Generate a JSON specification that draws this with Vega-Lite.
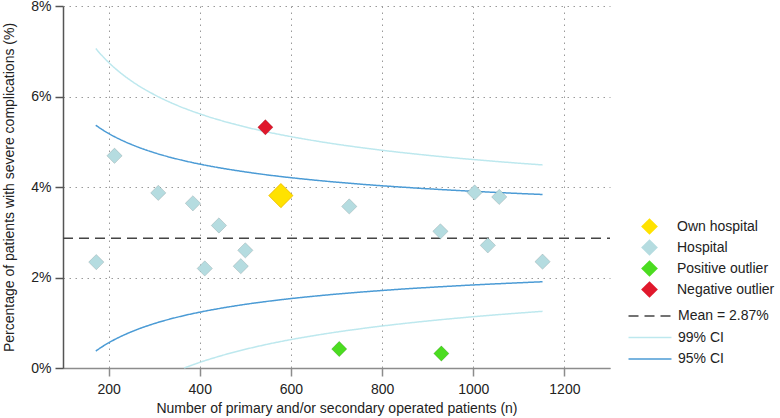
{
  "$schema": "https://vega.github.io/schema/vega-lite/v6.json",
  "width": 547,
  "height": 362,
  "autosize": {"type": "none"},
  "padding": {"left": 63, "top": 6, "right": 170, "bottom": 50},
  "background": "white",
  "config": {
    "view": {"stroke": null},
    "font": "Liberation Sans",
    "axis": {
      "labelFont": "Liberation Sans",
      "titleFont": "Liberation Sans",
      "labelFontSize": 14,
      "titleFontSize": 14,
      "titleFontWeight": "normal",
      "labelColor": "#222222",
      "titleColor": "#222222",
      "gridColor": "#9a9a9a",
      "gridDash": [1.5, 4.5],
      "gridWidth": 1,
      "tickSize": 8,
      "domainWidth": 1.5,
      "tickWidth": 1.5
    },
    "legend": {
      "labelFont": "Liberation Sans",
      "labelFontSize": 14,
      "labelFontWeight": "normal",
      "labelColor": "#222222",
      "padding": 0
    }
  },
  "datasets": {
    "points": [
      {"n": 173, "pct": 2.34, "group": "Hospital"},
      {"n": 213, "pct": 4.69, "group": "Hospital"},
      {"n": 309, "pct": 3.87, "group": "Hospital"},
      {"n": 385, "pct": 3.64, "group": "Hospital"},
      {"n": 442, "pct": 3.15, "group": "Hospital"},
      {"n": 411, "pct": 2.2, "group": "Hospital"},
      {"n": 500, "pct": 2.6, "group": "Hospital"},
      {"n": 490, "pct": 2.25, "group": "Hospital"},
      {"n": 728, "pct": 3.57, "group": "Hospital"},
      {"n": 928, "pct": 3.02, "group": "Hospital"},
      {"n": 1003, "pct": 3.88, "group": "Hospital"},
      {"n": 1057, "pct": 3.78, "group": "Hospital"},
      {"n": 1032, "pct": 2.71, "group": "Hospital"},
      {"n": 1152, "pct": 2.35, "group": "Hospital"},
      {"n": 706, "pct": 0.42, "group": "Positive outlier"},
      {"n": 930, "pct": 0.32, "group": "Positive outlier"},
      {"n": 544, "pct": 5.32, "group": "Negative outlier"},
      {"n": 578, "pct": 3.81, "group": "Own hospital"}
    ],
    "lines": [
      {"series": "Mean = 2.87%", "part": "mean", "n": 100, "pct": 2.87},
      {"series": "Mean = 2.87%", "part": "mean", "n": 1300, "pct": 2.87},

      {"series": "99% CI", "part": "u99", "n": 172, "pct": 7.059},
      {"series": "99% CI", "part": "u99", "n": 185, "pct": 6.909},
      {"series": "99% CI", "part": "u99", "n": 200, "pct": 6.754},
      {"series": "99% CI", "part": "u99", "n": 225, "pct": 6.532},
      {"series": "99% CI", "part": "u99", "n": 250, "pct": 6.344},
      {"series": "99% CI", "part": "u99", "n": 300, "pct": 6.042},
      {"series": "99% CI", "part": "u99", "n": 350, "pct": 5.806},
      {"series": "99% CI", "part": "u99", "n": 400, "pct": 5.617},
      {"series": "99% CI", "part": "u99", "n": 450, "pct": 5.46},
      {"series": "99% CI", "part": "u99", "n": 500, "pct": 5.327},
      {"series": "99% CI", "part": "u99", "n": 550, "pct": 5.212},
      {"series": "99% CI", "part": "u99", "n": 600, "pct": 5.113},
      {"series": "99% CI", "part": "u99", "n": 650, "pct": 5.025},
      {"series": "99% CI", "part": "u99", "n": 700, "pct": 4.946},
      {"series": "99% CI", "part": "u99", "n": 750, "pct": 4.876},
      {"series": "99% CI", "part": "u99", "n": 800, "pct": 4.812},
      {"series": "99% CI", "part": "u99", "n": 850, "pct": 4.754},
      {"series": "99% CI", "part": "u99", "n": 900, "pct": 4.701},
      {"series": "99% CI", "part": "u99", "n": 950, "pct": 4.652},
      {"series": "99% CI", "part": "u99", "n": 1000, "pct": 4.607},
      {"series": "99% CI", "part": "u99", "n": 1050, "pct": 4.565},
      {"series": "99% CI", "part": "u99", "n": 1100, "pct": 4.526},
      {"series": "99% CI", "part": "u99", "n": 1152, "pct": 4.488},

      {"series": "99% CI", "part": "l99", "n": 366, "pct": 0.0},
      {"series": "99% CI", "part": "l99", "n": 400, "pct": 0.124},
      {"series": "99% CI", "part": "l99", "n": 450, "pct": 0.28},
      {"series": "99% CI", "part": "l99", "n": 500, "pct": 0.413},
      {"series": "99% CI", "part": "l99", "n": 550, "pct": 0.528},
      {"series": "99% CI", "part": "l99", "n": 600, "pct": 0.628},
      {"series": "99% CI", "part": "l99", "n": 650, "pct": 0.715},
      {"series": "99% CI", "part": "l99", "n": 700, "pct": 0.794},
      {"series": "99% CI", "part": "l99", "n": 750, "pct": 0.864},
      {"series": "99% CI", "part": "l99", "n": 800, "pct": 0.928},
      {"series": "99% CI", "part": "l99", "n": 850, "pct": 0.986},
      {"series": "99% CI", "part": "l99", "n": 900, "pct": 1.039},
      {"series": "99% CI", "part": "l99", "n": 950, "pct": 1.088},
      {"series": "99% CI", "part": "l99", "n": 1000, "pct": 1.133},
      {"series": "99% CI", "part": "l99", "n": 1050, "pct": 1.175},
      {"series": "99% CI", "part": "l99", "n": 1100, "pct": 1.214},
      {"series": "99% CI", "part": "l99", "n": 1152, "pct": 1.252},

      {"series": "95% CI", "part": "u95", "n": 172, "pct": 5.365},
      {"series": "95% CI", "part": "u95", "n": 185, "pct": 5.276},
      {"series": "95% CI", "part": "u95", "n": 200, "pct": 5.184},
      {"series": "95% CI", "part": "u95", "n": 225, "pct": 5.052},
      {"series": "95% CI", "part": "u95", "n": 250, "pct": 4.94},
      {"series": "95% CI", "part": "u95", "n": 300, "pct": 4.759},
      {"series": "95% CI", "part": "u95", "n": 350, "pct": 4.619},
      {"series": "95% CI", "part": "u95", "n": 400, "pct": 4.506},
      {"series": "95% CI", "part": "u95", "n": 450, "pct": 4.413},
      {"series": "95% CI", "part": "u95", "n": 500, "pct": 4.334},
      {"series": "95% CI", "part": "u95", "n": 550, "pct": 4.265},
      {"series": "95% CI", "part": "u95", "n": 600, "pct": 4.206},
      {"series": "95% CI", "part": "u95", "n": 650, "pct": 4.154},
      {"series": "95% CI", "part": "u95", "n": 700, "pct": 4.107},
      {"series": "95% CI", "part": "u95", "n": 750, "pct": 4.065},
      {"series": "95% CI", "part": "u95", "n": 800, "pct": 4.027},
      {"series": "95% CI", "part": "u95", "n": 850, "pct": 3.993},
      {"series": "95% CI", "part": "u95", "n": 900, "pct": 3.961},
      {"series": "95% CI", "part": "u95", "n": 950, "pct": 3.932},
      {"series": "95% CI", "part": "u95", "n": 1000, "pct": 3.905},
      {"series": "95% CI", "part": "u95", "n": 1050, "pct": 3.88},
      {"series": "95% CI", "part": "u95", "n": 1100, "pct": 3.857},
      {"series": "95% CI", "part": "u95", "n": 1152, "pct": 3.834},

      {"series": "95% CI", "part": "l95", "n": 172, "pct": 0.375},
      {"series": "95% CI", "part": "l95", "n": 185, "pct": 0.464},
      {"series": "95% CI", "part": "l95", "n": 200, "pct": 0.556},
      {"series": "95% CI", "part": "l95", "n": 225, "pct": 0.688},
      {"series": "95% CI", "part": "l95", "n": 250, "pct": 0.8},
      {"series": "95% CI", "part": "l95", "n": 300, "pct": 0.981},
      {"series": "95% CI", "part": "l95", "n": 350, "pct": 1.121},
      {"series": "95% CI", "part": "l95", "n": 400, "pct": 1.234},
      {"series": "95% CI", "part": "l95", "n": 450, "pct": 1.327},
      {"series": "95% CI", "part": "l95", "n": 500, "pct": 1.407},
      {"series": "95% CI", "part": "l95", "n": 550, "pct": 1.475},
      {"series": "95% CI", "part": "l95", "n": 600, "pct": 1.534},
      {"series": "95% CI", "part": "l95", "n": 650, "pct": 1.586},
      {"series": "95% CI", "part": "l95", "n": 700, "pct": 1.633},
      {"series": "95% CI", "part": "l95", "n": 750, "pct": 1.675},
      {"series": "95% CI", "part": "l95", "n": 800, "pct": 1.713},
      {"series": "95% CI", "part": "l95", "n": 850, "pct": 1.748},
      {"series": "95% CI", "part": "l95", "n": 900, "pct": 1.779},
      {"series": "95% CI", "part": "l95", "n": 950, "pct": 1.808},
      {"series": "95% CI", "part": "l95", "n": 1000, "pct": 1.835},
      {"series": "95% CI", "part": "l95", "n": 1050, "pct": 1.86},
      {"series": "95% CI", "part": "l95", "n": 1100, "pct": 1.883},
      {"series": "95% CI", "part": "l95", "n": 1152, "pct": 1.906}
    ]
  },
  "layer": [
    {
      "data": {"name": "lines"},
      "mark": {"type": "line", "strokeWidth": 1.5, "interpolate": "monotone"},
      "encoding": {
        "x": {
          "field": "n", "type": "quantitative",
          "scale": {"domain": [100, 1300], "nice": false, "zero": false},
          "axis": {
            "title": "Number of primary and/or secondary operated patients (n)",
            "values": [200, 400, 600, 800, 1000, 1200],
            "format": "d",
            "grid": true,
            "domainColor": "#8c8c8c",
            "tickColor": "#8c8c8c",
            "labelPadding": 6,
            "titlePadding": 5
          }
        },
        "y": {
          "field": "pct", "type": "quantitative",
          "scale": {"domain": [0, 8], "nice": false},
          "axis": {
            "title": "Percentage of patients with severe complications (%)",
            "values": [0, 2, 4, 6, 8],
            "labelExpr": "datum.value + '%'",
            "grid": true,
            "domainColor": "#555555",
            "tickColor": "#555555",
            "labelPadding": 4,
            "titlePadding": 14
          }
        },
        "detail": {"field": "part"},
        "stroke": {
          "field": "series", "type": "nominal",
          "scale": {"domain": ["Mean = 2.87%", "99% CI", "95% CI"], "range": ["#444444", "#bde8ee", "#4b9bd5"]},
          "legend": {
            "title": null, "orient": "none", "legendX": 579, "legendY": 302,
            "symbolType": "M-3.07,0H3.07", "symbolSize": 196, "symbolStrokeWidth": 1.5,
            "labelOffset": 20, "rowPadding": 6.5
          }
        },
        "strokeDash": {
          "field": "series", "type": "nominal",
          "scale": {"domain": ["Mean = 2.87%", "99% CI", "95% CI"], "range": [[10, 6], [1, 0], [1, 0]]},
          "legend": {
            "title": null, "orient": "none", "legendX": 579, "legendY": 302,
            "symbolType": "M-3.07,0H3.07", "symbolSize": 196, "symbolStrokeWidth": 1.5,
            "labelOffset": 20, "rowPadding": 6.5
          }
        }
      }
    },
    {
      "data": {"name": "points"},
      "transform": [{"filter": "datum.group != 'Own hospital'"}],
      "mark": {"type": "point", "shape": "diamond", "filled": true, "opacity": 1, "size": 235, "stroke": "#000000", "strokeOpacity": 0.12, "strokeWidth": 1},
      "encoding": {
        "x": {"field": "n", "type": "quantitative"},
        "y": {"field": "pct", "type": "quantitative"},
        "fill": {
          "field": "group", "type": "nominal",
          "scale": {"domain": ["Own hospital", "Hospital", "Positive outlier", "Negative outlier"], "range": ["#ffe200", "#b5dce0", "#4bdc20", "#e0182c"]},
          "legend": {
            "title": null, "orient": "none", "legendX": 578, "legendY": 212,
            "symbolType": "diamond", "symbolSize": 280, "symbolStrokeWidth": 0,
            "labelOffset": 19, "rowPadding": 4
          }
        }
      }
    },
    {
      "data": {"name": "points"},
      "transform": [{"filter": "datum.group == 'Own hospital'"}],
      "mark": {"type": "point", "shape": "diamond", "filled": true, "opacity": 1, "size": 580, "stroke": "#f2c200", "strokeWidth": 1},
      "encoding": {
        "x": {"field": "n", "type": "quantitative"},
        "y": {"field": "pct", "type": "quantitative"},
        "fill": {"field": "group", "type": "nominal"}
      }
    }
  ]
}
